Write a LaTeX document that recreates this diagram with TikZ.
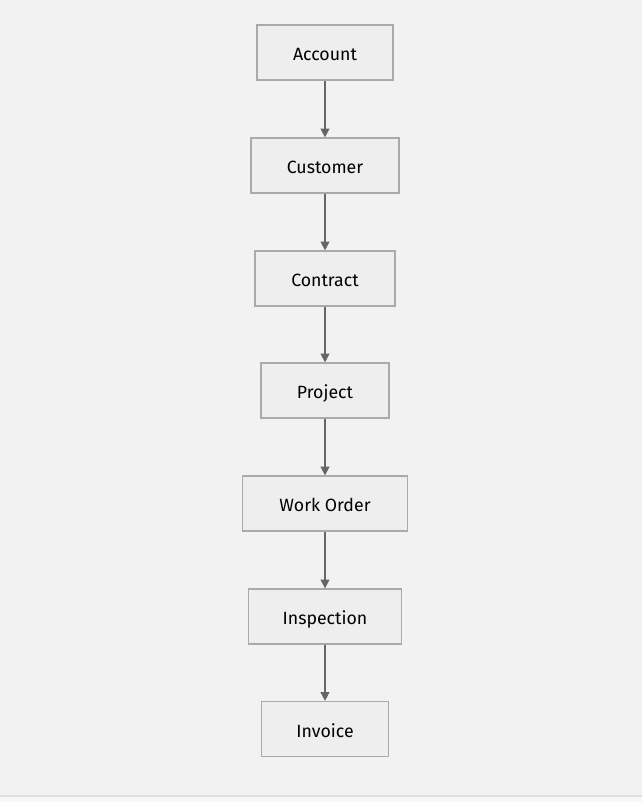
\documentclass[tikz,border=0pt]{standalone}
\usepackage{fontspec}
\setmainfont{Fira Sans}
\usetikzlibrary{arrows.meta}
\definecolor{bgc}{HTML}{F2F2F2}
\definecolor{bgb}{HTML}{F8F8F8}
\definecolor{sepc}{HTML}{E0E0E0}
\definecolor{boxfill}{HTML}{EEEEEE}
\definecolor{boxdraw}{HTML}{AAAAAA}
\definecolor{arrc}{HTML}{666666}
\begin{document}
\begin{tikzpicture}[x=0.75pt,y=-0.75pt,
  entity/.style={draw=boxdraw,fill=boxfill,line width=0.9pt,minimum height=41.25pt,inner sep=0pt,text height=12.6pt,text depth=0pt,font=\fontsize{13.3pt}{15pt}\selectfont,text=black},
  link/.style={draw=arrc,line width=1.1pt,-{Triangle[width=6.5pt,length=6.5pt]}}]
\useasboundingbox (0,0) rectangle (642,802);
\fill[bgc] (0,0) rectangle (642,796);
\fill[bgb] (0,796) rectangle (642,802);
\draw[sepc,line width=0.8pt] (0,796) -- (642,796);
\node[entity,minimum width=102pt] (account) at (325,52.5) {Account};
\node[entity,minimum width=111pt] (customer) at (325,165.5) {Customer};
\node[entity,minimum width=105pt] (contract) at (325,278.5) {Contract};
\node[entity,minimum width=96pt] (project) at (325,390.5) {Project};
\node[entity,minimum width=124pt] (workorder) at (325,503.5) {Work Order};
\node[entity,minimum width=115pt] (inspection) at (325,616.5) {Inspection};
\node[entity,minimum width=95pt] (invoice) at (325,729) {Invoice};
\draw[link] (account) -- (customer);
\draw[link] (customer) -- (contract);
\draw[link] (contract) -- (project);
\draw[link] (project) -- (workorder);
\draw[link] (workorder) -- (inspection);
\draw[link] (inspection) -- (invoice);
\end{tikzpicture}
\end{document}
